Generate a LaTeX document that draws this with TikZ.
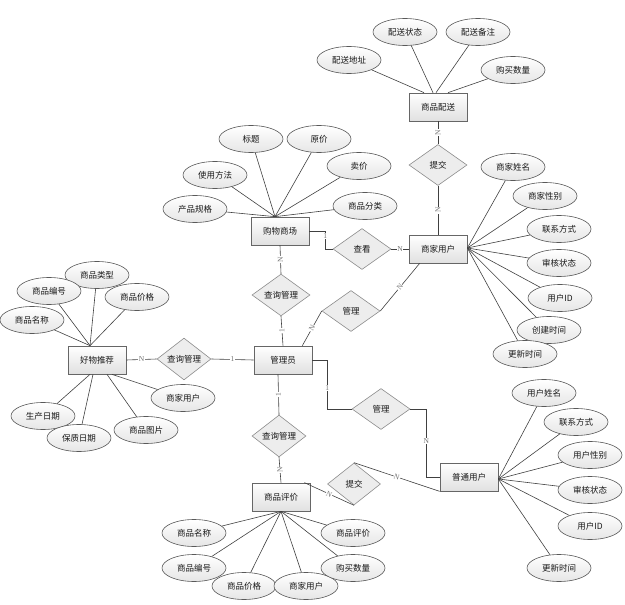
\documentclass[tikz,border=0pt]{standalone}
\usepackage{fontspec}
\setmainfont{Noto Sans CJK SC}
\newfontfamily\lblfont{Liberation Serif}
\usetikzlibrary{shapes.geometric,shadows,calc}
\begin{document}
\begin{tikzpicture}[x=1pt,y=-1pt,
  every node/.style={font=\fontsize{8.5}{10}\selectfont, text=black!90},
  ent/.style={rectangle, draw=black!60, line width=0.7pt, top color=white, bottom color=black!12,
    minimum width=58pt, minimum height=28pt, inner sep=0pt,
    drop shadow={shadow xshift=1.2pt, shadow yshift=-1.2pt, opacity=0.35}},
  attr/.style={ellipse, draw=black!65, line width=0.6pt, top color=white, bottom color=black!10,
    minimum width=64pt, minimum height=27pt, inner sep=0pt},
  rel/.style={diamond, draw=black!45, line width=0.6pt, fill=black!7,
    minimum width=58pt, minimum height=41pt, inner sep=0pt},
  con/.style={draw=black!75, line width=0.6pt},
  lbl/.style={font=\lblfont\fontsize{7.5}{8}\selectfont, text=black!55, fill=white, inner sep=0.6pt},
]
\useasboundingbox (0,0) rectangle (625,605);

% entities
\node[ent] (psd) at (438,107) {商品配送};
\node[ent] (gw)  at (280,231) {购物商场};
\node[ent] (sj)  at (438,249) {商家用户};
\node[ent] (gly) at (283,360) {管理员};
\node[ent] (hw)  at (97,360)  {好物推荐};
\node[ent] (pj)  at (281,497) {商品评价};
\node[ent] (pt)  at (469,477) {普通用户};

% relationships
\node[rel] (tj1) at (438,165) {提交};
\node[rel] (ck)  at (362,249) {查看};
\node[rel] (qx1) at (281,295) {查询管理};
\node[rel] (gl1) at (351,311) {管理};
\node[rel,minimum width=54pt] (qx2) at (184,359) {查询管理};
\node[rel] (gl2) at (381,409) {管理};
\node[rel,minimum width=54pt] (qx3) at (279,436) {查询管理};
\node[rel,minimum width=53pt,minimum height=42pt] (tj2) at (354,484) {提交};

% attributes of 商品配送
\node[attr] (a1) at (349,60) {配送地址};
\node[attr] (a2) at (405,32) {配送状态};
\node[attr] (a3) at (478,32) {配送备注};
\node[attr] (a4) at (513,70) {购买数量};
\draw[con] (a1) -- ([xshift=-14pt]psd.north);
\draw[con] (a2) -- ([xshift=-5pt]psd.north);
\draw[con] (a3) -- ([xshift=-2pt]psd.north);
\draw[con] (a4) -- ([xshift=10pt]psd.north);

% attributes of 购物商场
\coordinate (gwt) at ([xshift=-5pt]gw.north);
\node[attr] (b1) at (251,139) {标题};
\node[attr] (b2) at (319,139) {原价};
\node[attr] (b3) at (359,166) {卖价};
\node[attr] (b4) at (215,175) {使用方法};
\node[attr] (b5) at (195,209) {产品规格};
\node[attr] (b6) at (365,206) {商品分类};
\foreach \a in {b1,b2,b3,b4,b5,b6} \draw[con] (\a) -- (gwt);

% attributes of 商家用户
\coordinate (sje) at ([yshift=1pt]sj.east);
\node[attr] (c1) at (513,167) {商家姓名};
\node[attr] (c2) at (545,196) {商家性别};
\node[attr] (c3) at (559,229) {联系方式};
\node[attr] (c4) at (559,263) {审核状态};
\node[attr] (c5) at (560,298) {用户ID};
\node[attr] (c6) at (549,330) {创建时间};
\node[attr] (c7) at (525,354) {更新时间};
\foreach \a in {c1,c2,c3,c4,c5,c6,c7} \draw[con] (\a) -- (sje);

% attributes of 好物推荐
\coordinate (hwt) at ([xshift=-7pt]hw.north);
\node[attr] (d1) at (97,275)  {商品类型};
\node[attr] (d2) at (49,291)  {商品编号};
\node[attr] (d3) at (137,297) {商品价格};
\node[attr] (d4) at (32,320)  {商品名称};
\node[attr] (d5) at (183,398) {商家用户};
\node[attr] (d6) at (146,430) {商品图片};
\node[attr] (d7) at (43,416)  {生产日期};
\node[attr] (d8) at (79,438)  {保质日期};
\foreach \a in {d1,d2,d3,d4} \draw[con] (\a) -- (hwt);
\draw[con] (d7) -- ([xshift=-7pt]hw.south);
\draw[con] (d8) -- ([xshift=-4pt]hw.south);
\draw[con] (d6) -- ([xshift=10pt]hw.south);
\draw[con] (d5) -- ([xshift=15pt]hw.south);

% attributes of 普通用户
\coordinate (pte) at ([yshift=-2pt]pt.east);
\node[attr] (e1) at (544,393) {用户姓名};
\node[attr] (e2) at (576,422) {联系方式};
\node[attr] (e3) at (590,455) {用户性别};
\node[attr] (e4) at (590,490) {审核状态};
\node[attr] (e5) at (590,526) {用户ID};
\node[attr] (e6) at (559,568) {更新时间};
\foreach \a in {e1,e2,e3,e4,e5,e6} \draw[con] (\a) -- (pte);

% attributes of 商品评价
\coordinate (pjb) at (pj.south);
\node[attr] (f1) at (194,533) {商品名称};
\node[attr] (f2) at (194,568) {商品编号};
\node[attr] (f3) at (244,586) {商品价格};
\node[attr] (f4) at (306,586) {商家用户};
\node[attr] (f5) at (353,533) {商品评价};
\node[attr] (f6) at (353,568) {购买数量};
\foreach \a in {f1,f2,f3,f4,f5,f6} \draw[con] (\a) -- (pjb);

% relationship connectors
\draw[con] (psd.south) -- node[lbl,rotate=90] {N} (tj1.north);
\draw[con] (tj1.south) -- node[lbl,rotate=90] {N} (sj.north);
\draw[con] (gw.east) -- ++(16,0) |- node[lbl,pos=0.14] {1} (ck.west);
\draw[con] (ck.east) -- node[lbl] {N} (sj.west);
\draw[con] (gw.south) -- node[lbl,rotate=90] {N} (qx1.north);
\draw[con] (qx1.south) -- node[lbl,rotate=90] {1} (gly.north);
\draw[con] ([xshift=-10pt]gly.north east) -- node[lbl,sloped] {N} (gl1.west);
\draw[con] (gl1.east) -- node[lbl,sloped] {N} ([xshift=11pt]sj.south west);
\draw[con] (hw.east) -- node[lbl] {N} (qx2.west);
\draw[con] (qx2.east) -- node[lbl] {1} (gly.west);
\draw[con] (gly.east) -- ++(15,0) |- node[lbl,pos=0.29] {1} (gl2.west);
\draw[con] (gl2.east) -- ++(16,0) |- node[lbl,pos=0.235] {N} (pt.west);
\draw[con] ([xshift=-5pt]gly.south) -- node[lbl,rotate=90] {1} (qx3.north);
\draw[con] (qx3.south) -- node[lbl,rotate=90] {N} (pj.north);
\draw[con] ([xshift=-6pt]pj.north east) -- node[lbl,sloped] {N} (tj2.south);
\draw[con] (tj2.north) -- node[lbl,sloped] {N} (pt.south west);
\end{tikzpicture}
\end{document}
